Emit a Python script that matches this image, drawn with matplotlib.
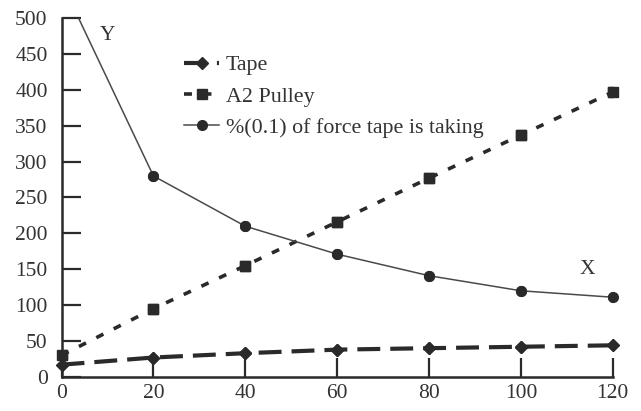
import matplotlib
matplotlib.use("Agg")
import matplotlib.pyplot as plt

x = [0, 20, 40, 60, 80, 100, 120]
tape = [17, 27, 33, 38, 40, 42, 44]
pulley = [30, 95, 155, 216, 277, 337, 397]
pct_force = [550, 280, 210, 171, 141, 120, 111]
xticks = [0, 20, 40, 60, 80, 100, 120]
yticks = [0, 50, 100, 150, 200, 250, 300, 350, 400, 450, 500]

plt.rcParams['font.family'] = ['Liberation Serif', 'DejaVu Serif']
ink = '#2a2a2a'

fig = plt.figure(figsize=(6.41, 4.11), dpi=100)
ax = fig.add_axes([0.096, 0.083, 0.86, 0.873])

ax.plot(x, tape, color=ink, lw=3.0, dashes=(5.5, 2.4), marker='D', ms=6.5,
        label='Tape', zorder=3)
ax.plot(x, pulley, color=ink, lw=2.6, dashes=(2.2, 3.2), marker='s', ms=7,
        label='A2 Pulley', zorder=3)
ax.plot(x, pct_force, color='#4a4a4a', lw=1.1, marker='o', ms=7,
        markerfacecolor=ink, markeredgecolor=ink,
        label='%(0.1) of force tape is taking', zorder=3)

# unclipped marker overlays so edge markers show in full
ax.plot(x, tape, ls='none', marker='D', ms=6.5, color=ink, clip_on=False, zorder=4)
ax.plot(x, pulley, ls='none', marker='s', ms=7, color=ink, clip_on=False, zorder=4)
ax.plot(x[1:], pct_force[1:], ls='none', marker='o', ms=7, color=ink,
        clip_on=False, zorder=4)

ax.set_xlim(0, 120)
ax.set_ylim(0, 500)
ax.set_xticks(xticks)
ax.set_yticks(yticks)
ax.tick_params(direction='in', length=14, width=1.6, color=ink,
               labelsize=15.5, labelcolor='#333333')
ax.tick_params(axis='y', pad=10)
ax.tick_params(axis='x', pad=5)
for s in ['top', 'right']:
    ax.spines[s].set_visible(False)
for s in ['left', 'bottom']:
    ax.spines[s].set_linewidth(1.8)
    ax.spines[s].set_color(ink)

ax.text(10, 476, 'Y', fontsize=15.5, color='#333333', ha='center', va='center')
ax.text(114.5, 150, 'X', fontsize=15.5, color='#333333', ha='center', va='center')

leg = ax.legend(loc='upper left', bbox_to_anchor=(0.187, 0.952), frameon=False,
                fontsize=15.8, handlelength=1.6, handletextpad=0.3,
                labelspacing=0.5, labelcolor='#333333')

fig.savefig('out.png', dpi=100)
